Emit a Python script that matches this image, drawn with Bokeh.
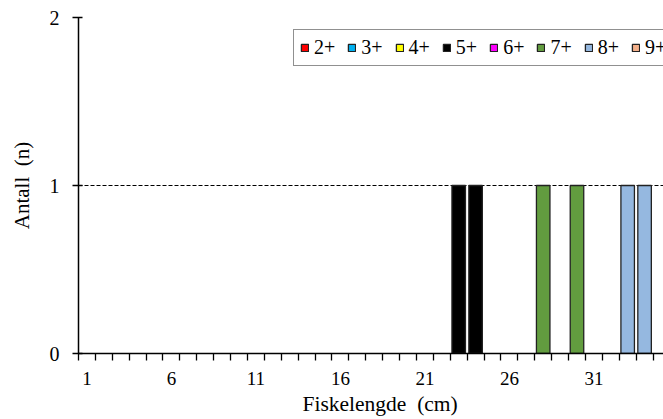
import math
from bokeh.plotting import figure
from bokeh.models import Range1d, FixedTicker, Legend, Title, ColumnDataSource
from bokeh.embed import file_html
from bokeh.resources import INLINE

# Data
lengths = list(range(1, 36))
age_groups = ["2+", "3+", "4+", "5+", "6+", "7+", "8+", "9+"]
colors = ["#FF0000", "#00B0F0", "#FFFF00", "#000000", "#FF00FF", "#629C3F", "#95B8E0", "#F4B08A"]
count_5 = {23: 1, 24: 1}
count_7 = {28: 1, 30: 1}
count_8 = {33: 1, 34: 1}
counts = {g: [0] * len(lengths) for g in age_groups}
for l, n in count_5.items():
    counts["5+"][lengths.index(l)] = n
for l, n in count_7.items():
    counts["7+"][lengths.index(l)] = n
for l, n in count_8.items():
    counts["8+"][lengths.index(l)] = n
x_tick_values = [1, 6, 11, 16, 21, 26, 31]
x_boundaries = [l - 0.5 for l in lengths] + [lengths[-1] + 0.5]
y_ticks = [0, 1, 2]
x_title = "Fiskelengde \u00a0(cm)"
y_title = "Antall \u00a0(n)"

FONT = "Liberation Serif"

p = figure(width=663, height=419, output_backend="svg", toolbar_location=None,
           x_range=Range1d(0.5, 35.12), y_range=Range1d(0, 2),
           min_border_left=78, min_border_right=0, min_border_top=17, min_border_bottom=66)
p.outline_line_color = None
p.background_fill_color = "white"
p.border_fill_color = "white"

# stacked bars drawn per series, skipping empty cells
base = [0] * len(lengths)
renderers = []
for g, c in zip(age_groups, colors):
    xs, bots, tops = [], [], []
    for i, l in enumerate(lengths):
        n = counts[g][i]
        if n > 0:
            xs.append(l)
            bots.append(base[i])
            tops.append(base[i] + n)
        base[i] += n
    if not xs:  # placeholder row (not drawn) so the legend swatch renders
        xs, bots, tops = [math.nan], [math.nan], [math.nan]
    src = ColumnDataSource(dict(x=xs, bottom=bots, top=tops))
    r = p.vbar(x="x", bottom="bottom", top="top", width=0.8, source=src,
               fill_color=c, line_color="#222222", line_width=1.3)
    renderers.append(r)

legend = Legend(items=[(g, [r]) for g, r in zip(age_groups, renderers)],
                orientation="horizontal", location=(215, 287))
legend.label_text_font = FONT
legend.label_text_font_size = "20px"
legend.label_text_color = "black"
legend.glyph_width = 9
legend.glyph_height = 9
legend.label_standoff = 5
legend.spacing = 12
legend.padding = 6
legend.margin = 0
legend.border_line_color = "#222222"
legend.border_line_width = 1.5
legend.background_fill_alpha = 1
p.add_layout(legend)

# axes
xa = p.xaxis[0]
xa.ticker = FixedTicker(ticks=x_tick_values, minor_ticks=x_boundaries)
xa.major_tick_line_color = None
xa.major_tick_in = 0
xa.major_tick_out = 0
xa.minor_tick_in = 0
xa.minor_tick_out = 7
xa.minor_tick_line_color = "black"
xa.minor_tick_line_width = 1.3
xa.axis_line_color = "black"
xa.axis_line_width = 1.5
xa.major_label_text_font = FONT
xa.major_label_text_font_size = "19px"
xa.major_label_text_color = "black"
xa.major_label_standoff = 11

ya = p.yaxis[0]
ya.ticker = FixedTicker(ticks=y_ticks)
ya.minor_tick_line_color = None
ya.major_tick_in = 4
ya.major_tick_out = 6
ya.major_tick_line_color = "black"
ya.major_tick_line_width = 1.3
ya.axis_line_color = "black"
ya.axis_line_width = 1.5
ya.major_label_text_font = FONT
ya.major_label_text_font_size = "20px"
ya.major_label_text_color = "black"
ya.major_label_standoff = 13
ya.axis_label = y_title
ya.axis_label_text_font = FONT
ya.axis_label_text_font_size = "21px"
ya.axis_label_text_font_style = "normal"
ya.axis_label_text_color = "black"
ya.axis_label_standoff = 13

p.xgrid.grid_line_color = None
p.ygrid.ticker = FixedTicker(ticks=[1, 2])
p.ygrid.grid_line_color = "black"
p.ygrid.grid_line_width = 1
p.ygrid.grid_line_dash = "4 2"

xt = Title(text=x_title, align="left", offset=224, standoff=5,
           text_font=FONT, text_font_size="21.5px", text_font_style="normal",
           text_color="black")
p.add_layout(xt, "below")

open("out.html", "w").write(file_html(p, INLINE))
